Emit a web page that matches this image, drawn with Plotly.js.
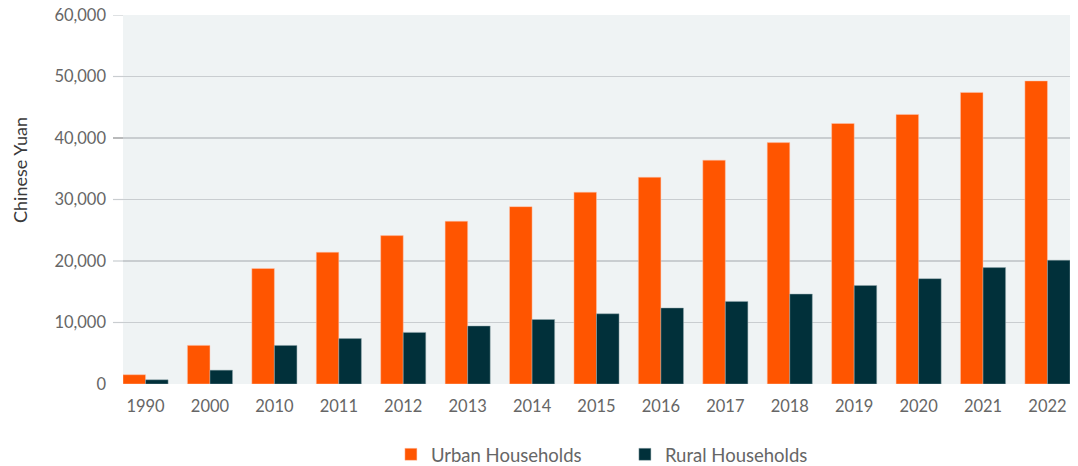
<!DOCTYPE html>
<html>
<head>
<meta charset="utf-8">
<script src="https://cdn.plot.ly/plotly-3.0.1.min.js"></script>
<style>html,body{margin:0;padding:0;background:#fff;}#chart{width:1078px;height:466px;}</style>
</head>
<body>
<div id="chart"></div>
<script>
const years = ['1990','2000','2010','2011','2012','2013','2014','2015','2016','2017','2018','2019','2020','2021','2022'];
const urban = [1510, 6280, 18780, 21430, 24130, 26470, 28840, 31190, 33620, 36400, 39250, 42360, 43830, 47410, 49280];
const rural = [690, 2250, 6270, 7390, 8390, 9430, 10490, 11420, 12360, 13430, 14620, 16020, 17130, 18930, 20130];
const yTicks = [0, 10000, 20000, 30000, 40000, 50000, 60000];
const yTickText = ['0', '10,000', '20,000', '30,000', '40,000', '50,000', '60,000'];

const urbanColor = '#FF5500';
const ruralColor = '#01303A';
const gridColor = '#C9CDD0';

const traces = [
  {type: 'bar', name: 'Urban Households', x: years, y: urban,
   marker: {color: urbanColor, line: {color: 'rgba(255,200,180,0.8)', width: 0.6}}},
  {type: 'bar', name: 'Rural Households', x: years, y: rural,
   marker: {color: ruralColor, line: {color: 'rgba(150,170,175,0.8)', width: 0.6}}}
];

const shapes = [];
yTicks.forEach(v => {
  if (v === 0) return;
  shapes.push({type: 'line', xref: 'paper', yref: 'y', x0: -0.0106, x1: 0, y0: v, y1: v,
    line: {color: v === 40000 ? '#8A8C8E' : gridColor, width: 1.2}, layer: 'below'});
});
shapes.push({type: 'line', xref: 'paper', yref: 'y', x0: 0, x1: 1, y0: 40000, y1: 40000,
  line: {color: '#8A8C8E', width: 1.2}, layer: 'below'});

const layout = {
  width: 1078, height: 466,
  margin: {l: 123, r: 8, t: 15, b: 82, autoexpand: false},
  paper_bgcolor: '#FFFFFF',
  plot_bgcolor: '#EFF3F4',
  barmode: 'group',
  bargap: 0.30,
  bargroupgap: 0,
  font: {family: 'Lato, "Open Sans", sans-serif', color: '#666666', size: 16},
  xaxis: {
    type: 'category',
    range: [-0.35, 14.35],
    showgrid: false, zeroline: false, showline: false,
    ticks: '', tickfont: {size: 16.5, color: '#666666'},
    ticklabelstandoff: 10,
    automargin: false,
    fixedrange: true
  },
  yaxis: {
    range: [0, 60000],
    tickvals: yTicks, ticktext: yTickText,
    showgrid: true, gridcolor: gridColor, gridwidth: 1.2,
    zeroline: false, showline: false,
    ticks: '', ticklabelstandoff: 16,
    tickfont: {size: 16.5, color: '#666666'},
    automargin: false,
    fixedrange: true
  },
  annotations: [{
    text: 'Chinese Yuan', textangle: -90, showarrow: false,
    xref: 'paper', yref: 'paper', x: -0.1088, y: 0.58,
    xanchor: 'center', yanchor: 'middle',
    font: {size: 18, color: '#3A3A3A'}
  }],
  shapes: shapes,
  showlegend: true,
  legend: {
    orientation: 'h', x: 0.530, xanchor: 'center',
    yref: 'container', y: 0.024, yanchor: 'middle',
    font: {size: 18.5, color: '#666666'}, itemwidth: 30, traceorder: 'normal',
    entrywidth: 189
  }
};

Plotly.newPlot('chart', traces, layout, {displayModeBar: false, staticPlot: true});
</script>
</body>
</html>
